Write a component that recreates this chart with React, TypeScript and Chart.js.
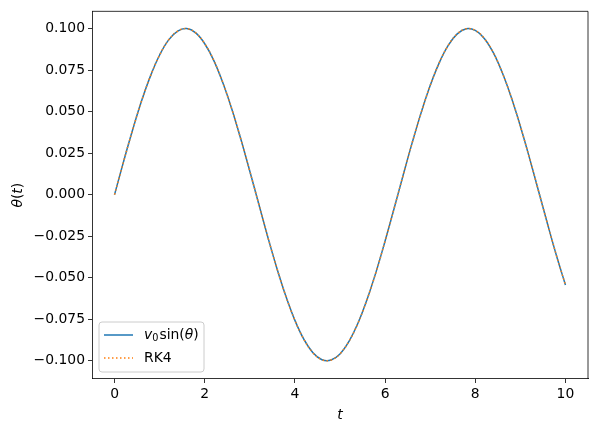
import React, { useEffect, useRef } from "react";
import { Chart, registerables } from "chart.js";

Chart.register(...registerables);

const tValues = [
  0, 0.2, 0.4, 0.6, 0.8, 1.0, 1.2, 1.4, 1.6, 1.8, 2.0, 2.2, 2.4, 2.6, 2.8, 3.0, 3.2, 3.4, 3.6, 3.8,
  4.0, 4.2, 4.4, 4.6, 4.8, 5.0, 5.2, 5.4, 5.6, 5.8, 6.0, 6.2, 6.4, 6.6, 6.8, 7.0, 7.2, 7.4, 7.6, 7.8,
  8.0, 8.2, 8.4, 8.6, 8.8, 9.0, 9.2, 9.4, 9.6, 9.8, 10.0,
];
const exactValues = [
  0, 0.0199, 0.0389, 0.0565, 0.0717, 0.0841, 0.0932, 0.0985, 0.1, 0.0974, 0.0909, 0.0809, 0.0675,
  0.0516, 0.0335, 0.0141, -0.0058, -0.0256, -0.0443, -0.0612, -0.0757, -0.0872, -0.0952, -0.0994,
  -0.0996, -0.0959, -0.0883, -0.0773, -0.0631, -0.0465, -0.0279, -0.0083, 0.0117, 0.0312, 0.0494,
  0.0657, 0.0794, 0.0899, 0.0968, 0.0999, 0.0989, 0.0941, 0.0855, 0.0734, 0.0585, 0.0412, 0.0223,
  0.0025, -0.0174, -0.0366, -0.0544,
];
const rk4Values = [...exactValues];
const xTicks = [0, 2, 4, 6, 8, 10];
const yTicks = [-0.1, -0.075, -0.05, -0.025, 0, 0.025, 0.05, 0.075, 0.1];

const FONT = "'DejaVu Sans', sans-serif";
const FS = 13.9;

const overlay = {
  id: "overlay",
  afterDraw(chart: any) {
    const ctx = chart.ctx;
    const area = chart.chartArea;
    ctx.save();
    ctx.fillStyle = "#000";
    // x title
    ctx.font = `italic ${FS}px ${FONT}`;
    ctx.textAlign = "center";
    ctx.textBaseline = "alphabetic";
    ctx.fillText("t", (area.left + area.right) / 2, 419);
    // y title
    ctx.save();
    ctx.translate(22, (area.top + area.bottom) / 2);
    ctx.rotate(-Math.PI / 2);
    const parts = [
      { s: "θ", it: true },
      { s: "(", it: false },
      { s: "t", it: true },
      { s: ")", it: false },
    ];
    let total = 0;
    for (const p of parts) {
      ctx.font = `${p.it ? "italic " : ""}${FS}px ${FONT}`;
      total += ctx.measureText(p.s).width;
    }
    let x = -total / 2;
    ctx.textAlign = "left";
    for (const p of parts) {
      ctx.font = `${p.it ? "italic " : ""}${FS}px ${FONT}`;
      ctx.fillText(p.s, x, 0);
      x += ctx.measureText(p.s).width;
    }
    ctx.restore();

    // legend
    const lx = 99, ly = 322, lw = 105, lh = 50, r = 3;
    ctx.beginPath();
    ctx.moveTo(lx + r, ly);
    ctx.lineTo(lx + lw - r, ly);
    ctx.arcTo(lx + lw, ly, lx + lw, ly + r, r);
    ctx.lineTo(lx + lw, ly + lh - r);
    ctx.arcTo(lx + lw, ly + lh, lx + lw - r, ly + lh, r);
    ctx.lineTo(lx + r, ly + lh);
    ctx.arcTo(lx, ly + lh, lx, ly + lh - r, r);
    ctx.lineTo(lx, ly + r);
    ctx.arcTo(lx, ly, lx + r, ly, r);
    ctx.closePath();
    ctx.fillStyle = "rgba(255,255,255,0.8)";
    ctx.fill();
    ctx.strokeStyle = "#cccccc";
    ctx.lineWidth = 1;
    ctx.stroke();

    const ds = chart.data.datasets;
    const rows = [335, 358];
    ds.forEach((d: any, i: number) => {
      ctx.beginPath();
      ctx.strokeStyle = d.borderColor;
      ctx.lineWidth = d.borderWidth;
      ctx.setLineDash(d.borderDash || []);
      ctx.moveTo(104, rows[i]);
      ctx.lineTo(133, rows[i]);
      ctx.stroke();
      ctx.setLineDash([]);
    });
    ctx.fillStyle = "#000";
    ctx.textBaseline = "middle";
    ctx.textAlign = "left";
    // v_0 sin(θ)
    let tx = 144;
    const ty = rows[0];
    const seg = (s: string, font: string, dy = 0) => {
      ctx.font = font;
      ctx.fillText(s, tx, ty + dy);
      tx += ctx.measureText(s).width;
    };
    seg("v", `italic ${FS}px ${FONT}`);
    seg("0", `${FS * 0.7}px ${FONT}`, 3);
    tx += 1;
    seg("sin", `${FS}px ${FONT}`);
    seg("(", `${FS}px ${FONT}`);
    seg("θ", `italic ${FS}px ${FONT}`);
    seg(")", `${FS}px ${FONT}`);
    ctx.font = `${FS}px ${FONT}`;
    ctx.fillText("RK4", 144, rows[1]);
    ctx.restore();
  },
};

export default function App() {
  const ref = useRef<HTMLCanvasElement>(null);
  useEffect(() => {
    const chart = new Chart(ref.current!, {
      type: "line",
      data: {
        datasets: [
          {
            label: "v0sin(θ)",
            data: tValues.map((t, i) => ({ x: t, y: exactValues[i] })),
            borderColor: "#1f77b4",
            borderWidth: 1.5,
            pointRadius: 0,
            tension: 0.4,
            order: 1,
            fill: false,
          },
          {
            label: "RK4",
            data: tValues.map((t, i) => ({ x: t, y: rk4Values[i] })),
            borderColor: "#ff7f0e",
            borderWidth: 1.5,
            borderDash: [1.5, 2.5],
            pointRadius: 0,
            tension: 0.4,
            order: 0,
            fill: false,
          },
        ],
      },
      options: {
        responsive: false,
        animation: false,
        layout: { padding: { top: 9, right: 10, left: 0, bottom: 0 } },
        plugins: { legend: { display: false }, tooltip: { enabled: false } },
        scales: {
          x: {
            type: "linear",
            min: -0.5,
            max: 10.5,
            afterBuildTicks: (s: any) => {
              s.ticks = xTicks.map((v) => ({ value: v }));
            },
            afterFit: (s: any) => {
              s.height = 53;
            },
            grid: { drawOnChartArea: false, color: "#000", tickLength: 4, tickWidth: 0.8 },
            border: { color: "#000", width: 0.8 },
            ticks: {
              color: "#000",
              padding: 3,
              maxRotation: 0,
              font: { family: FONT, size: FS },
              callback: (v: any) => String(v),
            },
          },
          y: {
            type: "linear",
            min: -0.111,
            max: 0.1104,
            afterBuildTicks: (s: any) => {
              s.ticks = yTicks.map((v) => ({ value: v }));
            },
            afterFit: (s: any) => {
              s.width = 92;
            },
            grid: { drawOnChartArea: false, color: "#000", tickLength: 4, tickWidth: 0.8 },
            border: { color: "#000", width: 0.8 },
            ticks: {
              color: "#000",
              padding: 3,
              font: { family: FONT, size: FS },
              callback: (v: any) => {
                const s = Number(v).toFixed(3);
                return s.startsWith("-") ? "−" + s.slice(1) : s;
              },
            },
          },
        },
      },
      plugins: [
        overlay,
        {
          id: "topRightBorder",
          afterDraw(chart: any) {
            const { ctx, chartArea: a } = chart;
            ctx.save();
            ctx.strokeStyle = "#000";
            ctx.lineWidth = 0.8;
            ctx.beginPath();
            ctx.moveTo(a.left, a.top);
            ctx.lineTo(a.right, a.top);
            ctx.lineTo(a.right, a.bottom);
            ctx.stroke();
            ctx.restore();
          },
        },
      ],
    } as any);
    return () => chart.destroy();
  }, []);
  return (
    <div style={{ position: "absolute", left: 0, top: 0, width: 598, height: 432, background: "#fff" }}>
      <canvas ref={ref} width={598} height={432} style={{ display: "block" }} />
    </div>
  );
}
